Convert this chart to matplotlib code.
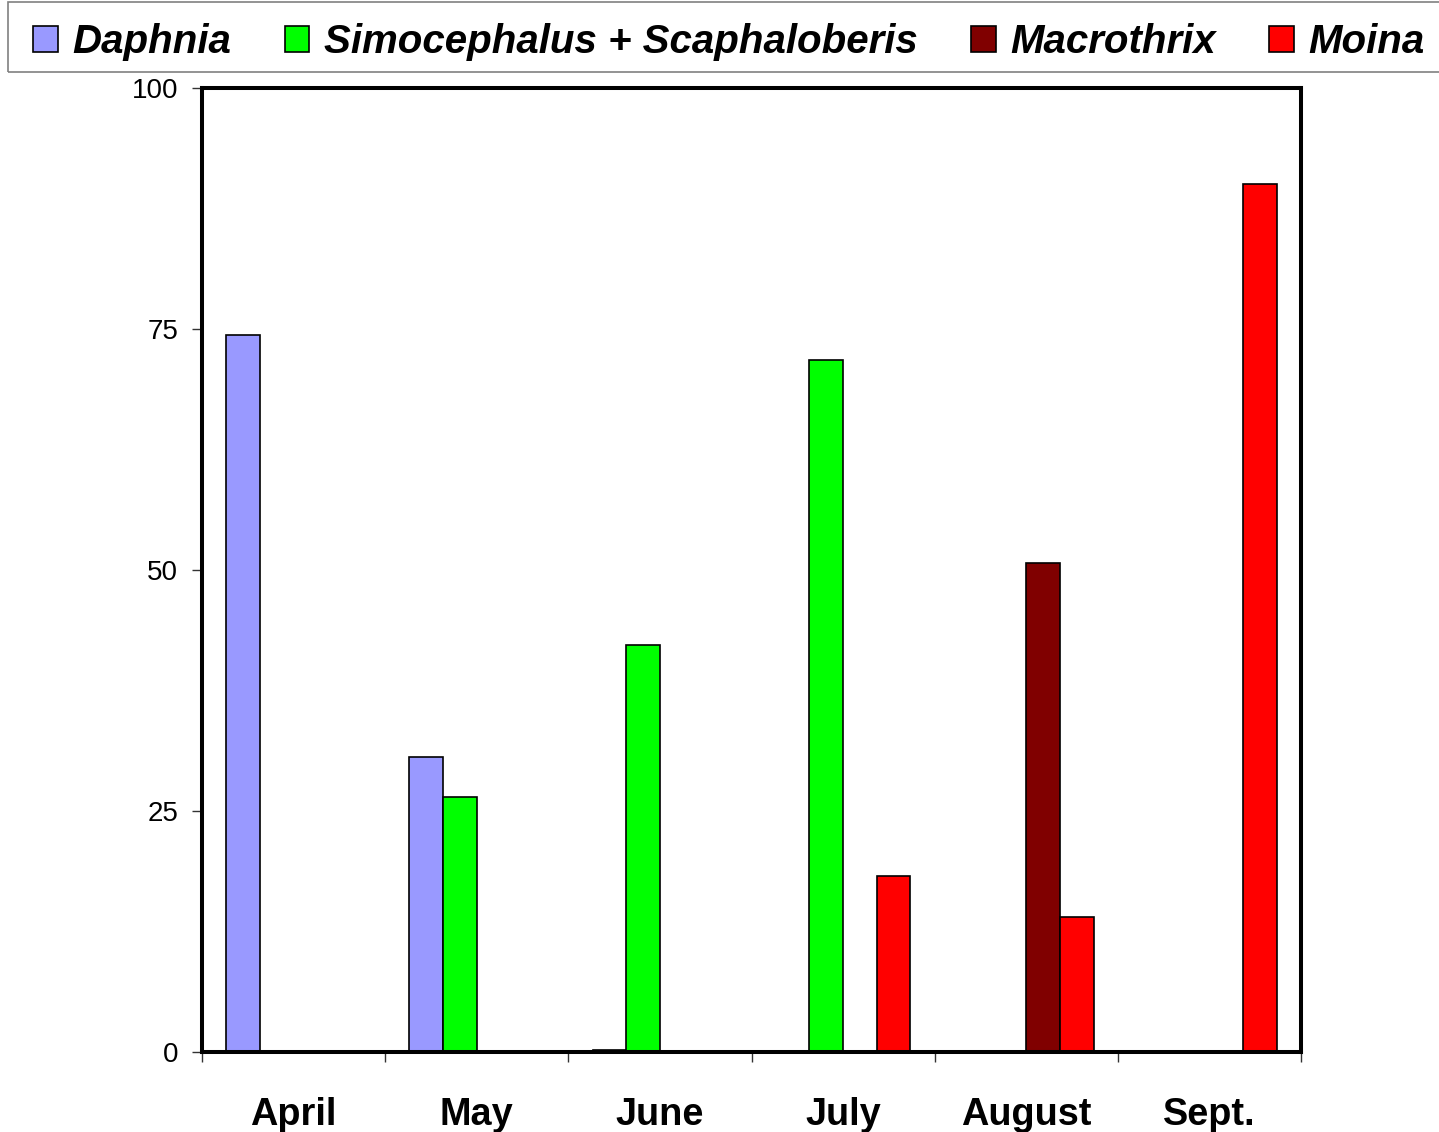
import matplotlib
matplotlib.use("Agg")
import matplotlib.pyplot as plt
from matplotlib.patches import Patch, Rectangle
import numpy as np

plt.rcParams['font.family'] = ['Liberation Sans', 'DejaVu Sans']

months = ["April", "May", "June", "July", "August", "Sept."]
series_names = ["Daphnia", "Simocephalus + Scaphaloberis", "Macrothrix", "Moina"]
daphnia = [74.4, 30.6, 0.2, 0, 0, 0]
simocephalus = [0, 26.5, 42.2, 71.8, 0, 0]
macrothrix = [0, 0, 0, 0, 50.7, 0]
moina = [0, 0, 0, 18.3, 14.0, 90.0]
colors = ["#9999FF", "#00FF00", "#800000", "#FF0000"]
yticks = [0, 25, 50, 75, 100]

W, H = 1439, 1132
fig = plt.figure(figsize=(W / 100, H / 100), dpi=100)
ax = fig.add_axes([202 / W, 1 - 1052 / H, (1301 - 202) / W, (1052 - 88) / H])

x = np.arange(len(months))
bw = 0.184
data = [daphnia, simocephalus, macrothrix, moina]
for j, (vals, c) in enumerate(zip(data, colors)):
    ax.bar(x + (j - 1.5) * bw, vals, width=bw, color=c, edgecolor="black",
           linewidth=1.2, zorder=2)

ax.set_xlim(-0.5, len(months) - 0.5)
ax.set_ylim(0, 100)
ax.set_yticks(yticks)
ax.set_yticklabels([str(v) for v in yticks], fontsize=20)
ax.tick_params(axis='y', length=7.2, width=1, pad=10, color="#333333")

ax.set_xticks(np.arange(len(months) + 1) - 0.5)
ax.set_xticklabels([])
ax.tick_params(axis='x', which='major', length=7.2, width=1, color="#333333")
ax.set_xticks(x, minor=True)
ax.set_xticklabels(months, minor=True, fontsize=27.3, fontweight='bold')
ax.tick_params(axis='x', which='minor', length=0, pad=32.5)

for s in ax.spines.values():
    s.set_linewidth(2.9)
    s.set_zorder(3)

# legend frame
fig.patches.append(Rectangle((8 / W, 1 - 72 / H), (W - 8 + 10) / W, 70 / H,
                             transform=fig.transFigure, fill=False,
                             edgecolor="#808080", linewidth=1.2))
handles = [Patch(facecolor=c, edgecolor="black", linewidth=1.2) for c in colors]
leg = fig.legend(handles, series_names, loc="center left",
                 bbox_to_anchor=(33 / W, 1 - 42 / H), ncol=4, frameon=False,
                 prop={'family': 'Liberation Sans', 'weight': 'bold',
                       'style': 'italic', 'size': 29},
                 handlelength=0.62, handleheight=0.62, handletextpad=0.36,
                 columnspacing=1.32, borderaxespad=0, borderpad=0)

fig.savefig("out.png", dpi=100)
